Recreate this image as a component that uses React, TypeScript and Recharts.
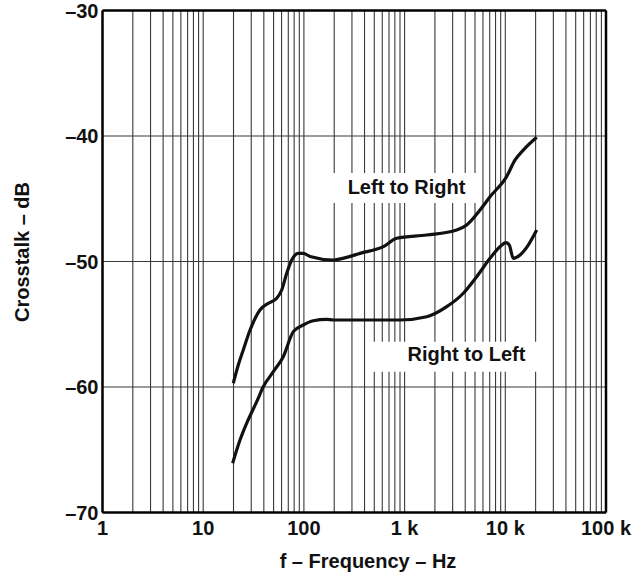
import React from "react";
import {
  LineChart,
  Line,
  XAxis,
  YAxis,
  CartesianGrid,
  ReferenceLine,
  ReferenceArea,
} from "recharts";

// frequency ticks (decades + minor grid lines)
const freqTicks = [
  1, 2, 3, 4, 5, 6, 7, 8, 9,
  10, 20, 30, 40, 50, 60, 70, 80, 90,
  100, 200, 300, 400, 500, 600, 700, 800, 900,
  1000, 2000, 3000, 4000, 5000, 6000, 7000, 8000, 9000,
  10000, 20000, 30000, 40000, 50000, 60000, 70000, 80000, 90000,
  100000,
];
const decadeLabels: Record<number, string> = {
  1: "1",
  10: "10",
  100: "100",
  1000: "1 k",
  10000: "10 k",
  100000: "100 k",
};
const dbTicks = [-70, -60, -50, -40, -30];

// Left to Right
const lrFreq = [
  19.9, 22.3, 25, 29.2, 36.6, 44.4, 53.7, 60.2, 67.5, 75.7, 88.1, 98.7, 115,
  196, 266, 361, 615, 835, 1660, 3290, 4140, 5610, 7050, 10300, 12500, 15100,
  20500,
];
const lrDb = [
  -59.7, -58.25, -57.05, -55.46, -53.86, -53.33, -52.93, -52.27, -50.94,
  -49.88, -49.35, -49.35, -49.6, -49.88, -49.67, -49.35, -48.82, -48.15,
  -47.89, -47.49, -47.09, -45.9, -44.84, -43.24, -41.91, -41.12, -40.1,
];

// Right to Left
const rlFreq = [
  19.6, 23.2, 27, 34, 39.5, 49.7, 62.4, 78.5, 98.6, 124, 168, 196, 900, 1660,
  2620, 3830, 5200, 7050, 8850, 10150, 10960, 12000, 14000, 16900, 20500,
];
const rlDb = [
  -66.08, -64.22, -62.89, -61.17, -59.98, -58.78, -57.59, -55.59, -55.06,
  -54.72, -54.61, -54.66, -54.66, -54.4, -53.6, -52.53, -51.21, -49.75,
  -48.82, -48.5, -48.69, -49.75, -49.48, -48.69, -47.49,
];

const lrData = lrFreq.map((f, i) => ({ f, db: lrDb[i] }));
const rlData = rlFreq.map((f, i) => ({ f, db: rlDb[i] }));

const FONT = "'Liberation Sans', Arial, Helvetica, sans-serif";
const textStyle = { fontFamily: FONT, fontWeight: 700, fontSize: 20, fill: "#111" };

const boxLabel = (text: string, dx: number, dy: number) => (props: any) => {
  const { x, y, width, height } = props.viewBox;
  return (
    <text
      x={x + width / 2 + dx}
      y={y + height / 2 + dy}
      textAnchor="middle"
      dominantBaseline="central"
      style={textStyle}
    >
      {text}
    </text>
  );
};

export default function App() {
  return (
    <div style={{ position: "absolute", left: 0, top: 0, width: 636, height: 575 }}>
      <style>{".recharts-surface{overflow:visible}"}</style>
      <LineChart
        width={636}
        height={575}
        margin={{ top: 10.5, right: 30, left: 0, bottom: 0 }}
      >
        <CartesianGrid stroke="#3a3a3a" strokeWidth={1.1} />

        {/* X axis (log frequency) */}
        <XAxis
          type="number"
          dataKey="f"
          scale="log"
          domain={[1, 100000]}
          ticks={freqTicks}
          interval={0}
          allowDataOverflow
          tickFormatter={(v) => decadeLabels[v] ?? ""}
          tickLine={false}
          tickSize={0}
          tickMargin={8}
          height={62.5}
          axisLine={{ stroke: "#000", strokeWidth: 2.5 }}
          tick={textStyle}
          label={{
            content: () => (
              <text x={368} y={568} textAnchor="middle" style={textStyle}>
                f – Frequency – Hz
              </text>
            ),
          }}
        />

        {/* Y axis (dB) */}
        <YAxis
          type="number"
          domain={[-70, -30]}
          ticks={dbTicks}
          interval={0}
          tickFormatter={(v) => `–${Math.abs(v)}`}
          tickLine={false}
          tickSize={0}
          tickMargin={4}
          width={102.5}
          axisLine={{ stroke: "#000", strokeWidth: 2.5 }}
          tick={textStyle}
          label={{
            content: () => (
              <text
                x={22}
                y={252}
                transform="rotate(-90 22 252)"
                textAnchor="middle"
                dominantBaseline="central"
                style={textStyle}
              >
                Crosstalk – dB
              </text>
            ),
          }}
        />

        {/* frame top / right */}
        <ReferenceLine y={-30} stroke="#000" strokeWidth={2.5} />
        <ReferenceLine x={100000} stroke="#000" strokeWidth={2.5} />

        {/* label boxes */}
        <ReferenceArea
          x1={182}
          x2={5480}
          y1={-45.34}
          y2={-42.95}
          fill="#fff"
          fillOpacity={1}
          stroke="none"
          label={boxLabel("Left to Right", 2, -1)}
        />
        <ReferenceArea
          x1={485}
          x2={21100}
          y1={-58.78}
          y2={-56.39}
          fill="#fff"
          fillOpacity={1}
          stroke="none"
          label={boxLabel("Right to Left", 11, -3)}
        />

        <Line
          data={lrData}
          type="monotone"
          dataKey="db"
          stroke="#111"
          strokeWidth={3.2}
          dot={false}
          isAnimationActive={false}
        />
        <Line
          data={rlData}
          type="monotone"
          dataKey="db"
          stroke="#111"
          strokeWidth={3.2}
          dot={false}
          isAnimationActive={false}
        />
      </LineChart>
    </div>
  );
}
